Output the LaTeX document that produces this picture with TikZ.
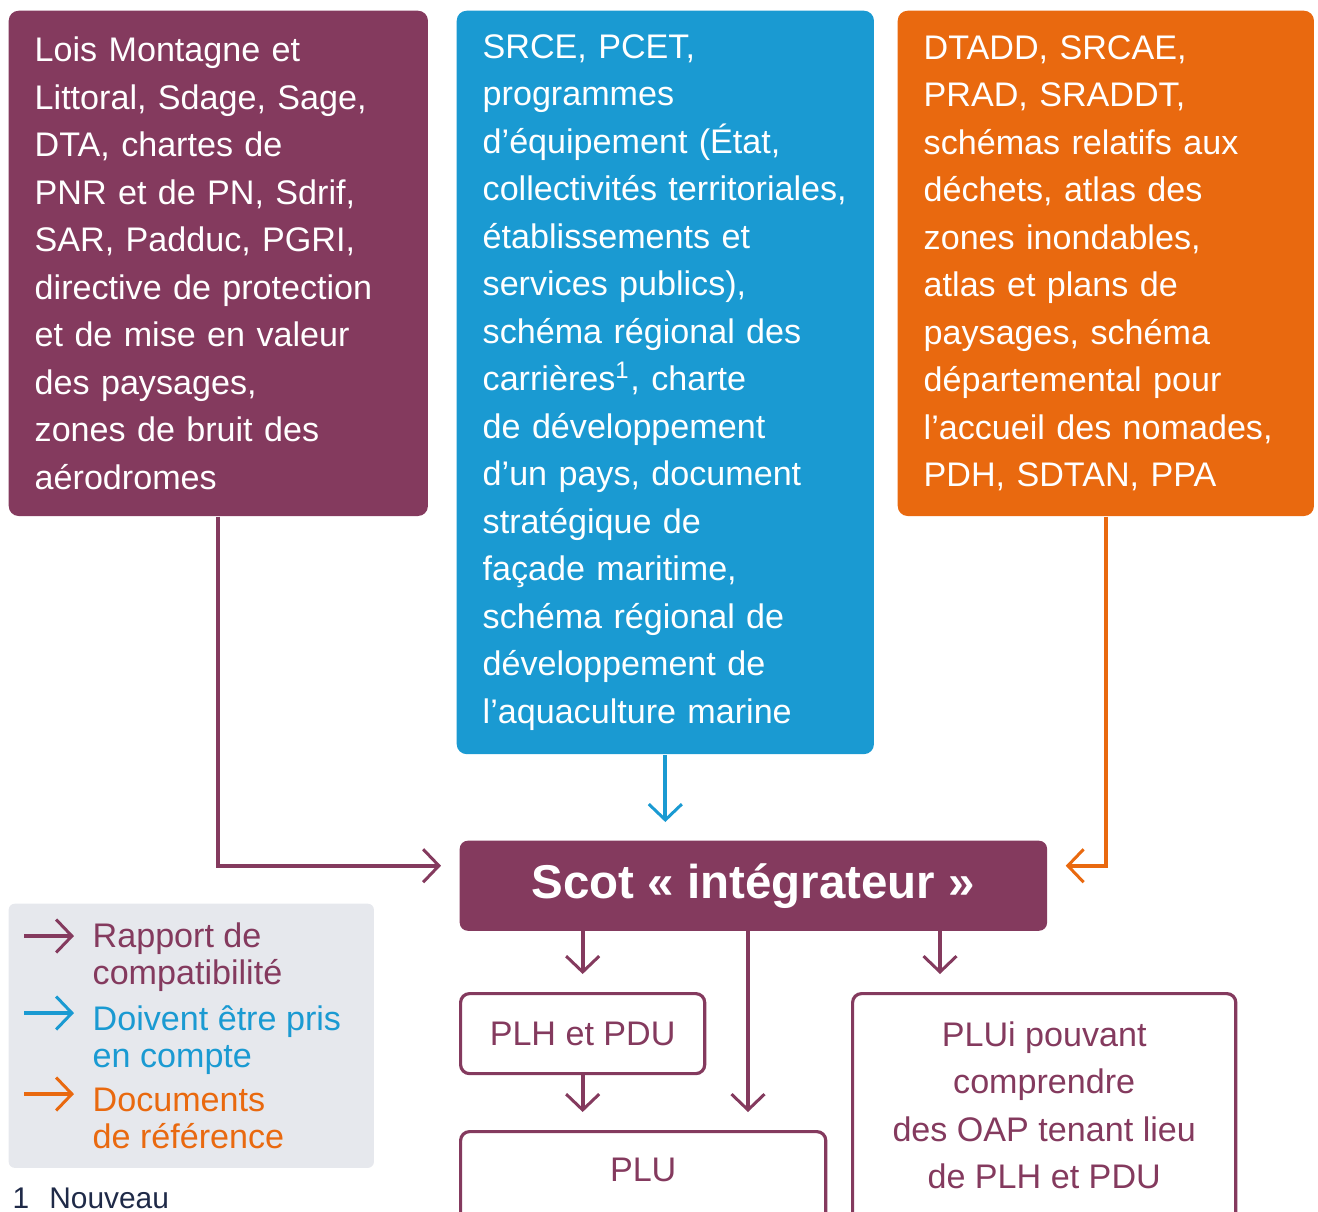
\documentclass[tikz,border=0pt]{standalone}
\usepackage{fontspec}
\setmainfont{Liberation Sans}
\usetikzlibrary{arrows.meta}
\definecolor{scotpurple}{HTML}{843A5E}
\definecolor{pcblue}{HTML}{1A9AD2}
\definecolor{reforange}{HTML}{E9690F}
\definecolor{leggray}{HTML}{E6E8ED}
\definecolor{notenavy}{HTML}{1F2A48}
\begin{document}
\begin{tikzpicture}[x=0.01cm, y=-0.01cm,
  txt/.style={font=\fontsize{9.7}{13.5}\selectfont},
  docbox/.style={txt, rectangle, rounded corners=0.1cm, anchor=north west, align=left, text=white, inner xsep=0.26cm, inner ysep=0},
  planbox/.style={txt, rectangle, rounded corners=0.09cm, draw=scotpurple, line width=0.9pt, anchor=north west, align=center, text=scotpurple},
  legtxt/.style={font=\fontsize{9.7}{10.5}\selectfont, anchor=north west, align=left, inner sep=0},
  link/.style={line width=1.1pt, -{Straight Barb[length=4.5pt,width=9.4pt,line width=0.85pt]}, shorten >=0.18cm}
]
\useasboundingbox (0,0) rectangle (1318,1211);
\clip (0,0) rectangle (1318,1211);

\node[docbox, fill=scotpurple, text width=3.67cm, minimum height=5.05cm] (lois) at (8,10)
  {Lois Montagne et\\Littoral, Sdage, Sage,\\DTA, chartes de\\PNR et de PN, Sdrif,\\SAR, Padduc, PGRI,\\directive de protection\\et de mise en valeur\\des paysages,\\zones de bruit des\\aérodromes};
\node[docbox, fill=pcblue, text width=3.65cm, minimum height=7.43cm] (pcet) at (456,10)
  {SRCE, PCET,\\programmes\\d’équipement (État,\\collectivités territoriales,\\établissements et\\services publics),\\schéma régional des\\carrières\textsuperscript{1}, charte\\de développement\\d’un pays, document\\stratégique de\\façade maritime,\\schéma régional de\\développement de\\l’aquaculture marine};
\node[docbox, fill=reforange, text width=3.64cm, minimum height=5.05cm] (srcae) at (897,10)
  {DTADD, SRCAE,\\PRAD, SRADDT,\\schémas relatifs aux\\déchets, atlas des\\zones inondables,\\atlas et plans de\\paysages, schéma\\départemental pour\\l’accueil des nomades,\\PDH, SDTAN, PPA};

\node[rectangle, fill=scotpurple, rounded corners=0.08cm, minimum width=5.87cm, minimum height=0.9cm, anchor=north west, text=white, font=\fontsize{13.5}{16}\selectfont\bfseries] (scot) at (459,840) {Scot « intégrateur »};

\node[planbox, minimum width=2.44cm, minimum height=0.8cm] (plh) at (459,992) {PLH et PDU};
\node[planbox, minimum width=3.65cm, inner ysep=0.26cm, text depth=0.7cm] (plu) at (459,1130) {PLU};
\node[planbox, minimum width=3.83cm, inner ysep=0.28cm, text depth=0.6cm] (plui) at (851,992)
  {PLUi pouvant\\comprendre\\des OAP tenant lieu\\de PLH et PDU};

\node[rectangle, fill=leggray, rounded corners=0.06cm, minimum width=3.65cm, minimum height=2.64cm, anchor=north west] (legend) at (8,903) {};
\node[legtxt, text=scotpurple] (kcomp) at (92,922) {Rapport de\\compatibilité};
\node[legtxt, text=pcblue] (kpris) at (92,1005) {Doivent être pris\\en compte};
\node[legtxt, text=reforange] (kref) at (92,1087) {Documents\\de référence};
\coordinate (kp) at (24,936);
\coordinate (kb) at (24,1013);
\coordinate (ko) at (24,1094);

\node[font=\fontsize{8.5}{10}\selectfont, anchor=base west, inner sep=0, text=notenavy] (note) at (12,1208) {1\hspace{0.2cm}Nouveau};

\coordinate (midx) at (748,0);
\coordinate (rightx) at (940,0);

\path[draw, link, scotpurple] (lois.south) |- ([yshift=0.2cm]scot.west);
\path[draw, link, pcblue] (pcet.south) -- (pcet.south |- scot.north);
\path[draw, link, reforange] (srcae.south) |- ([yshift=0.2cm]scot.east);

\path[draw, link, scotpurple] (scot.south -| plh.north) -- (plh.north);
\path[draw, link, scotpurple] (scot.south -| midx) -- (plu.north -| midx);
\path[draw, link, scotpurple] (scot.south -| rightx) -- (plui.north -| rightx);
\path[draw, link, scotpurple] (plh.south) -- (plh.south |- plu.north);

\path[draw, link, scotpurple] (kp) -- (kp -| kcomp.west);
\path[draw, link, pcblue] (kb) -- (kb -| kpris.west);
\path[draw, link, reforange] (ko) -- (ko -| kref.west);
\end{tikzpicture}
\end{document}
